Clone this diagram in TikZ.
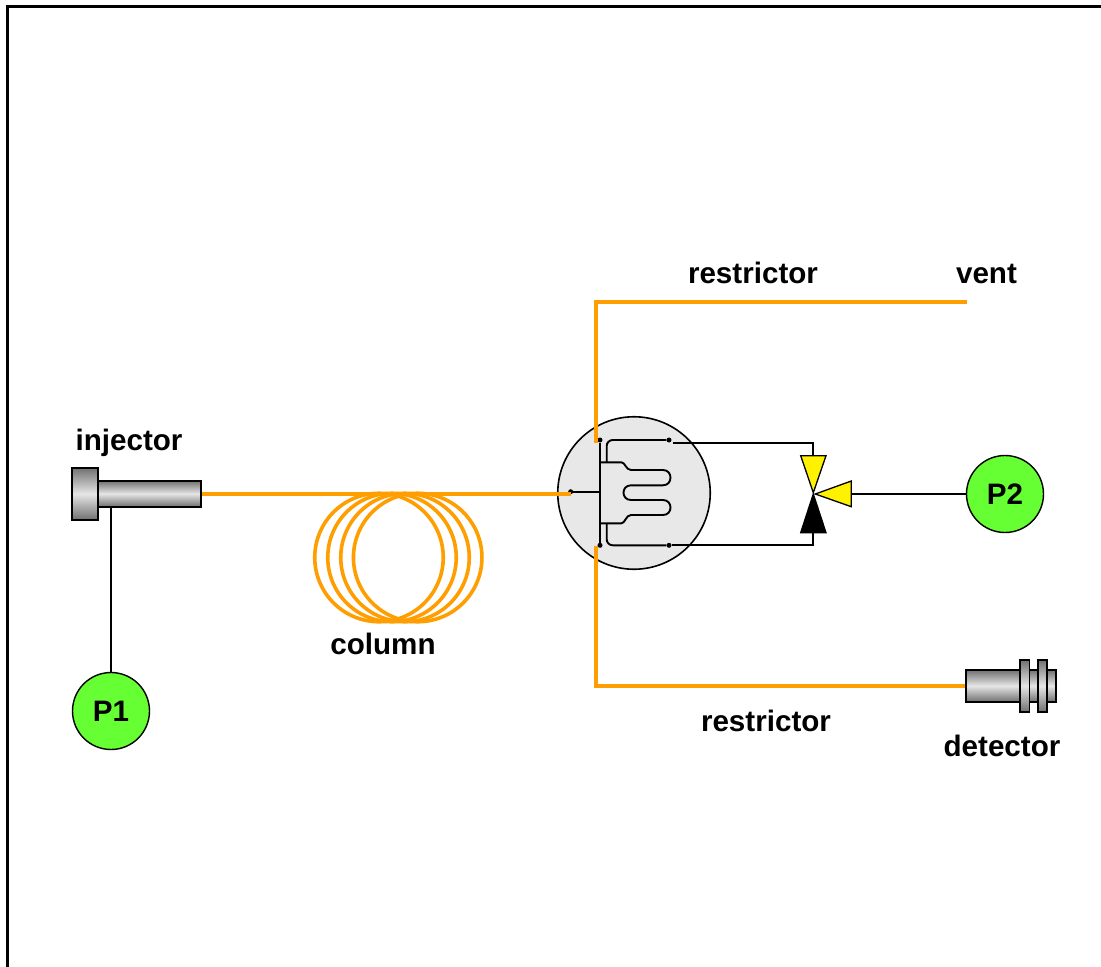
\documentclass[tikz,border=0pt]{standalone}
\usepackage{fontspec}
\setmainfont{Liberation Sans}
\definecolor{tube}{HTML}{FF9E00}
\definecolor{pumpgreen}{HTML}{66FF33}
\definecolor{valvegray}{HTML}{E8E8E8}
\definecolor{metaldark}{HTML}{707070}
\definecolor{metallight}{HTML}{E6E6E6}
\tikzset{
  tubeline/.style={draw=tube,line width=3.7pt},
  wire/.style={draw=black,line width=1.9pt},
  lbl/.style={font=\fontsize{29.6}{32}\selectfont\bfseries,anchor=base,inner sep=0pt,text=black},
  pump/.style={circle,draw=black,line width=1.4pt,fill=pumpgreen,minimum size=77pt,inner sep=0pt,font=\fontsize{29.6}{32}\selectfont\bfseries},
  metal/.style={rectangle,draw=black,line width=1.7pt,inner sep=0pt,top color=metaldark,bottom color=metaldark,middle color=metallight},
  coil/.style={circle,draw=tube,line width=3.6pt,minimum size=128.5pt,inner sep=0pt},
  port/.style={circle,fill=black,draw=none,minimum size=5pt,inner sep=0pt},
  yellowtri/.style={draw=black,line width=1.3pt,fill=yellow,line join=miter},
  blacktri/.style={draw=black,line width=1.3pt,fill=black},
}
\begin{document}
\begin{tikzpicture}[x=1pt,y=-1pt]
\useasboundingbox (0,0) rectangle (1101,967);
% frame
\coordinate (frameA) at (7.5,967);
\coordinate (frameB) at (7.5,6);
\coordinate (frameC) at (1101,6);
\draw[line width=3pt,line join=miter] (frameA) -- (frameB) -- (frameC);
% column coils
\node[coil] (c1) at (379,557.5) {};
\node[coil] (c2) at (392,557.5) {};
\node[coil] (c3) at (405,557.5) {};
\node[coil] (c4) at (417.7,557.5) {};
% valve body
\node[circle,draw=black,line width=1.6pt,fill=valvegray,minimum size=152.5pt,inner sep=0pt] (valve) at (634,493) {};
% ports
\node[port] (pL) at (570.7,491.7) {};
\node[port] (pTL) at (600,440) {};
\node[port] (pBL) at (600,545.3) {};
\node[port] (pTR) at (669,440) {};
\node[port] (pBR) at (669,545.3) {};
\coordinate (jL) at (600,491.7);
% internal wiring
\draw[wire] (pTL) -- (pBL);
\draw[wire] (pL) -- (jL);
\draw[wire,rounded corners=6pt] (606.7,462.3) -- (606.7,440) -- (pTR);
\draw[wire,rounded corners=6pt] (606.7,523.3) -- (606.7,545.3) -- (pBR);
\draw[wire,line join=round] (600,462.3) -- (621.5,462.3)
  .. controls (625,462.3) and (626,470) .. (631,470)
  -- (663,470)
  .. controls (673,470) and (673,485.3) .. (663,485.3)
  -- (631,485.3)
  .. controls (621,485.3) and (621,500) .. (631,500)
  -- (663,500)
  .. controls (673,500) and (673,515) .. (663,515)
  -- (631,515)
  .. controls (626,515) and (625,523.3) .. (621.5,523.3)
  -- (600,523.3);
% valve triangles
\coordinate (vTop) at (813.3,455.7);
\coordinate (vBot) at (813.3,532.7);
\coordinate (vRight) at (851.3,494);
\draw[yellowtri] (800.7,455.7) -- (826,455.7) -- (813.3,492.7) -- cycle;
\draw[blacktri] (800.7,532.7) -- (826,532.7) -- (813.3,494) -- cycle;
\draw[yellowtri] (815.3,494) -- (851.3,481) -- (851.3,506.7) -- cycle;
% outer wiring
\coordinate (wT) at (672.7,442.7);
\draw[wire,line join=miter] (wT) -- (813.3,442.7) -- (vTop);
\draw[wire,line join=miter] (pBR) -- (813.3,545.3) -- (vBot);
% pumps
\node[pump] (P1) at (111,711) {P1};
\node[pump] (P2) at (1005,494) {P2};
\draw[wire] (vRight) -- (P2.west);
% injector
\node[metal,minimum width=26pt,minimum height=52.3pt] (injhead) at (85.3,493.8) {};
\node[metal,minimum width=102.4pt,minimum height=26pt] (injbody) at (149.5,493.7) {};
\coordinate (injdrop) at (111,506.7);
\draw[wire] (injdrop) -- (P1.north);
% detector
\node[metal,minimum width=90pt,minimum height=31.7pt] (detbody) at (1011,685.8) {};
\node[metal,minimum width=9.3pt,minimum height=51.7pt] (flange1) at (1024.7,685.8) {};
\node[metal,minimum width=9.6pt,minimum height=51.7pt] (flange2) at (1042.5,685.8) {};
% capillaries
\coordinate (tTop) at (596,302);
\coordinate (tTopEnd) at (596,442.7);
\coordinate (tBot) at (596,685.8);
\coordinate (tBotEnd) at (596,545.7);
\coordinate (vent) at (967,302);
\coordinate (colEnd) at (571,493.7);
\draw[tubeline,line join=miter] (tTopEnd) -- (tTop) -- (vent);
\draw[tubeline,line join=miter] (tBotEnd) -- (tBot) -- (detbody.west);
\draw[tubeline] (injbody.east) -- (colEnd);
% labels
\node[lbl] (l1) at (753,283) {restrictor};
\node[lbl] (l2) at (986.5,283) {vent};
\node[lbl] (l3) at (129,450) {injector};
\node[lbl] (l4) at (383,654) {column};
\node[lbl] (l5) at (766,731) {restrictor};
\node[lbl] (l6) at (1002,756) {detector};
\end{tikzpicture}
\end{document}
